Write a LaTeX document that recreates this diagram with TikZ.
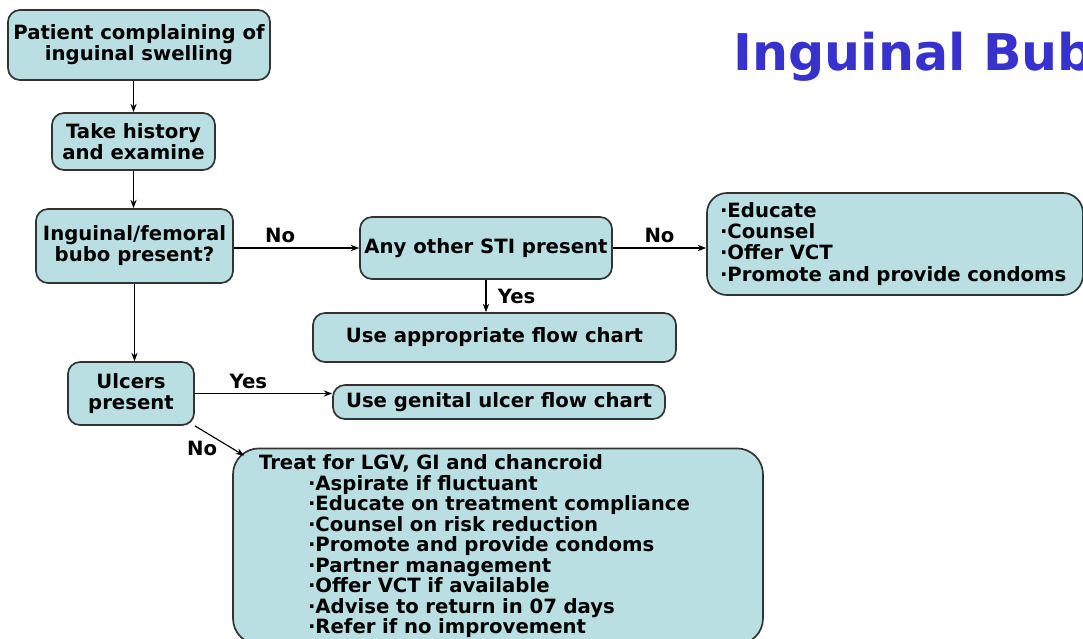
\documentclass[tikz,border=0pt]{standalone}
\usepackage{fontspec}
\setmainfont{DejaVu Sans}
\usetikzlibrary{arrows.meta}
\definecolor{boxfill}{RGB}{185,223,227}
\definecolor{titleblue}{RGB}{55,50,205}

\begin{document}
\begin{tikzpicture}[>={Stealth[length=6pt,width=4.5pt]}, every node/.style={font=\bfseries\fontsize{14}{15}\selectfont,align=center,inner sep=1pt}, box/.style={draw=black!80,line width=1.2pt,fill=boxfill,rounded corners=0.3cm,inner sep=2pt}]
 \clip (0,0) rectangle (27.075,-15.95);
 \node[anchor=base west,text=titleblue,font=\bfseries\fontsize{36}{40}\selectfont] (title) at (18.3,-1.75) {Inguinal Bubo};
 \node[box,minimum width=6.55cm,minimum height=1.75cm] (patient) at (3.475,-1.125) {Patient complaining of\\inguinal swelling};
 \node[box,minimum width=4.075cm,minimum height=1.425cm] (history) at (3.3375,-3.5375) {Take history\\and examine};
 \node[box,minimum width=4.925cm,minimum height=1.85cm] (bubo) at (3.3625,-6.15) {Inguinal/femoral\\bubo present?};
 \node[box,minimum width=6.3cm,minimum height=1.55cm] (sti) at (12.15,-6.2) {Any other STI present};
 \node[box,rounded corners=0.5cm,inner xsep=0.325cm,text width=8.75cm,minimum height=2.55cm,align=left] (educ) at (22.375,-6.1) {·Educate\\
   ·Counsel\\
   ·Offer VCT\\
   ·Promote and provide condoms};
 \node[box,minimum width=9.075cm,minimum height=1.225cm] (flow) at (12.3625,-8.4375) {Use appropriate flow chart};
 \node[box,minimum width=3.15cm,minimum height=1.575cm] (ulcer) at (3.275,-9.8375) {Ulcers\\present};
 \node[box,minimum width=8.3cm,minimum height=0.85cm] (gen) at (12.475,-10.05) {Use genital ulcer flow chart};
 \node[box,rounded corners=0.65cm,inner xsep=0.65cm,inner ysep=0pt,text width=11.95cm,minimum height=4.9cm,align=left,font=\bfseries\fontsize{14}{14.6}\selectfont] (treat) at (12.45,-13.66) {Treat for LGV, GI and chancroid\\
   \hspace*{1.225cm}·Aspirate if fluctuant\\
   \hspace*{1.225cm}·Educate on treatment compliance\\
   \hspace*{1.225cm}·Counsel on risk reduction\\
   \hspace*{1.225cm}·Promote and provide condoms\\
   \hspace*{1.225cm}·Partner management\\
   \hspace*{1.225cm}·Offer VCT if available\\
   \hspace*{1.225cm}·Advise to return in 07 days\\
   \hspace*{1.225cm}·Refer if no improvement};
 \draw[->,thick] (patient.south -| history.north) -- (history.north);
 \draw[->,thick] (history.south) -- (history.south |- bubo.north);
 \draw[->,thick] (bubo.east |- sti.west) -- node[above=2pt,pos=0.37] (no1) {No} (sti.west);
 \draw[->,thick] (sti.east) -- node[above=2pt] (no2) {No} (sti.east -| educ.west);
 \draw[->,thick] (sti.south) -- node[right=7pt] (yes1) {Yes} (sti.south |- flow.north);
 \draw[->,thick] (bubo.south) -- (bubo.south |- ulcer.north);
 \draw[->,thick] (ulcer.east) -- node[above=2pt,pos=0.39] (yes2) {Yes} (ulcer.east -| gen.west);
 \draw[->,thick] (ulcer.south east) -- node[below=6pt,pos=0.15] (no3) {No} ([shift={(0.3,-0.2)}]treat.north west);
\end{tikzpicture}
\end{document}
